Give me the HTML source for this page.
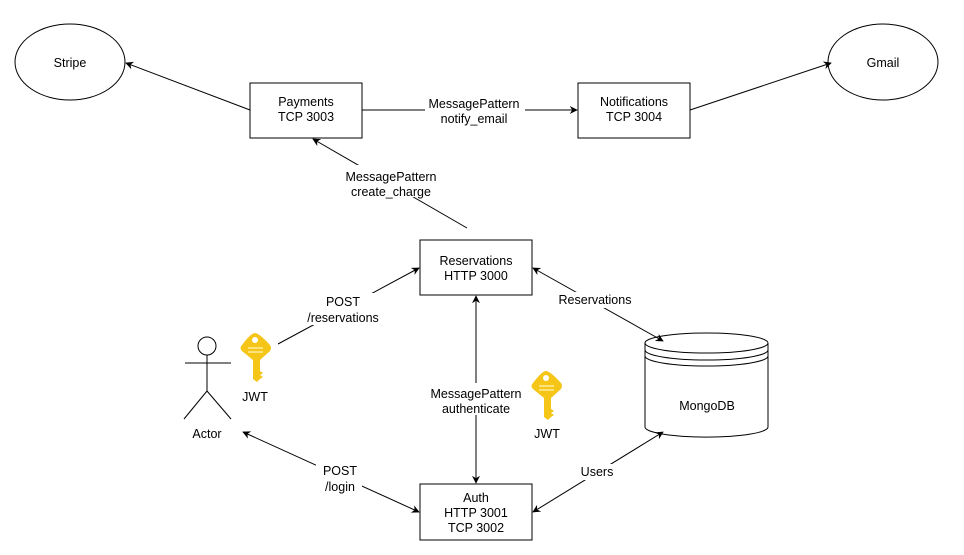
<!DOCTYPE html>
<html><head><meta charset="utf-8"><style>
html,body{margin:0;padding:0;background:#fff}
svg{display:block}
text{font-family:"Liberation Sans",sans-serif;font-size:12.5px;fill:#000;text-anchor:middle}
</style></head><body>
<svg width="964" height="555" viewBox="0 0 964 555" xmlns="http://www.w3.org/2000/svg">
<defs>
<marker id="a" viewBox="0 0 10 10" refX="9" refY="5" markerWidth="8" markerHeight="8" orient="auto-start-reverse" markerUnits="userSpaceOnUse">
<path d="M0,0 L10,5 L0,10 L3,5 z" fill="#000"/></marker>
<g id="key">
<path d="M15,0 Q19,0 30,12 Q32,15 30,18 L20,27 L20,38 L23,40 L20,42 L23,44 L20,46 L17,49 L13,46 L13,27 L2,18 Q-1,15 2,12 Q11,0 15,0 Z" fill="#f5c518"/>
<circle cx="15" cy="7" r="3" fill="#fff"/>
<rect x="8" y="14" width="15" height="2" fill="#fbe27a"/>
<rect x="8" y="18" width="15" height="2" fill="#fbe27a"/>
</g>
</defs>
<g fill="none" stroke="#000" stroke-width="1">
<ellipse cx="70" cy="62" rx="55" ry="38" fill="#fff"/>
<ellipse cx="883" cy="62" rx="55" ry="38" fill="#fff"/>
<rect x="250" y="83" width="112" height="55" fill="#fff"/>
<rect x="578" y="83" width="112" height="55" fill="#fff"/>
<rect x="420" y="240" width="112" height="55" fill="#fff"/>
<rect x="420" y="484" width="112" height="56" fill="#fff"/>
<path d="M645,343 L645,427 A61,10 0 0 0 768,427 L768,343" fill="#fff"/>
<ellipse cx="706.5" cy="343" rx="61.5" ry="10" fill="#fff"/>
<path d="M645,350 A61.5,10 0 0 0 768,350"/>
<path d="M645,356 A61.5,10 0 0 0 768,356"/>
<circle cx="207" cy="346" r="9"/>
<line x1="207" y1="355" x2="207" y2="391"/>
<line x1="185" y1="363" x2="231" y2="363"/>
<line x1="207" y1="391" x2="184" y2="419"/>
<line x1="207" y1="391" x2="231" y2="419"/>
<line x1="250" y1="110" x2="126" y2="63" marker-end="url(#a)"/>
<line x1="362" y1="110" x2="577" y2="110" marker-end="url(#a)"/>
<line x1="690" y1="110" x2="831" y2="63" marker-end="url(#a)"/>
<line x1="467" y1="228" x2="313" y2="139" marker-end="url(#a)"/>
<line x1="278" y1="344" x2="419" y2="268" marker-end="url(#a)"/>
<line x1="476" y1="296" x2="476" y2="483" marker-start="url(#a)" marker-end="url(#a)"/>
<line x1="533" y1="268" x2="663" y2="341" marker-start="url(#a)" marker-end="url(#a)"/>
<line x1="533" y1="512" x2="663" y2="432" marker-start="url(#a)" marker-end="url(#a)"/>
<line x1="419" y1="512" x2="243" y2="432" marker-start="url(#a)" marker-end="url(#a)"/>
</g>
<use href="#key" x="240" y="333"/>
<use href="#key" x="531" y="371"/>
<g fill="#fff">
<rect x="425" y="96" width="100" height="30"/>
<rect x="340" y="165" width="102" height="32"/>
<rect x="300" y="293" width="86" height="32"/>
<rect x="420" y="383" width="110" height="32"/>
<rect x="552" y="292" width="86" height="16"/>
<rect x="316" y="463" width="46" height="32"/>
<rect x="578" y="464" width="40" height="16"/>
</g>
<text x="70" y="67">Stripe</text>
<text x="883" y="67">Gmail</text>
<text x="306" y="106">Payments</text><text x="306" y="121">TCP 3003</text>
<text x="634" y="106">Notifications</text><text x="634" y="121">TCP 3004</text>
<text x="476" y="265">Reservations</text><text x="476" y="280">HTTP 3000</text>
<text x="476" y="502">Auth</text><text x="476" y="517">HTTP 3001</text><text x="476" y="532">TCP 3002</text>
<text x="474" y="108">MessagePattern</text><text x="474" y="123">notify_email</text>
<text x="391" y="181">MessagePattern</text><text x="391" y="196">create_charge</text>
<text x="343" y="306">POST</text><text x="343" y="322">/reservations</text>
<text x="476" y="398">MessagePattern</text><text x="476" y="413">authenticate</text>
<text x="595" y="304">Reservations</text>
<text x="597" y="476">Users</text>
<text x="340" y="475">POST</text><text x="340" y="491">/login</text>
<text x="707" y="410">MongoDB</text>
<text x="207" y="438">Actor</text>
<text x="255" y="401">JWT</text>
<text x="547" y="438">JWT</text>
</svg>
</body></html>
